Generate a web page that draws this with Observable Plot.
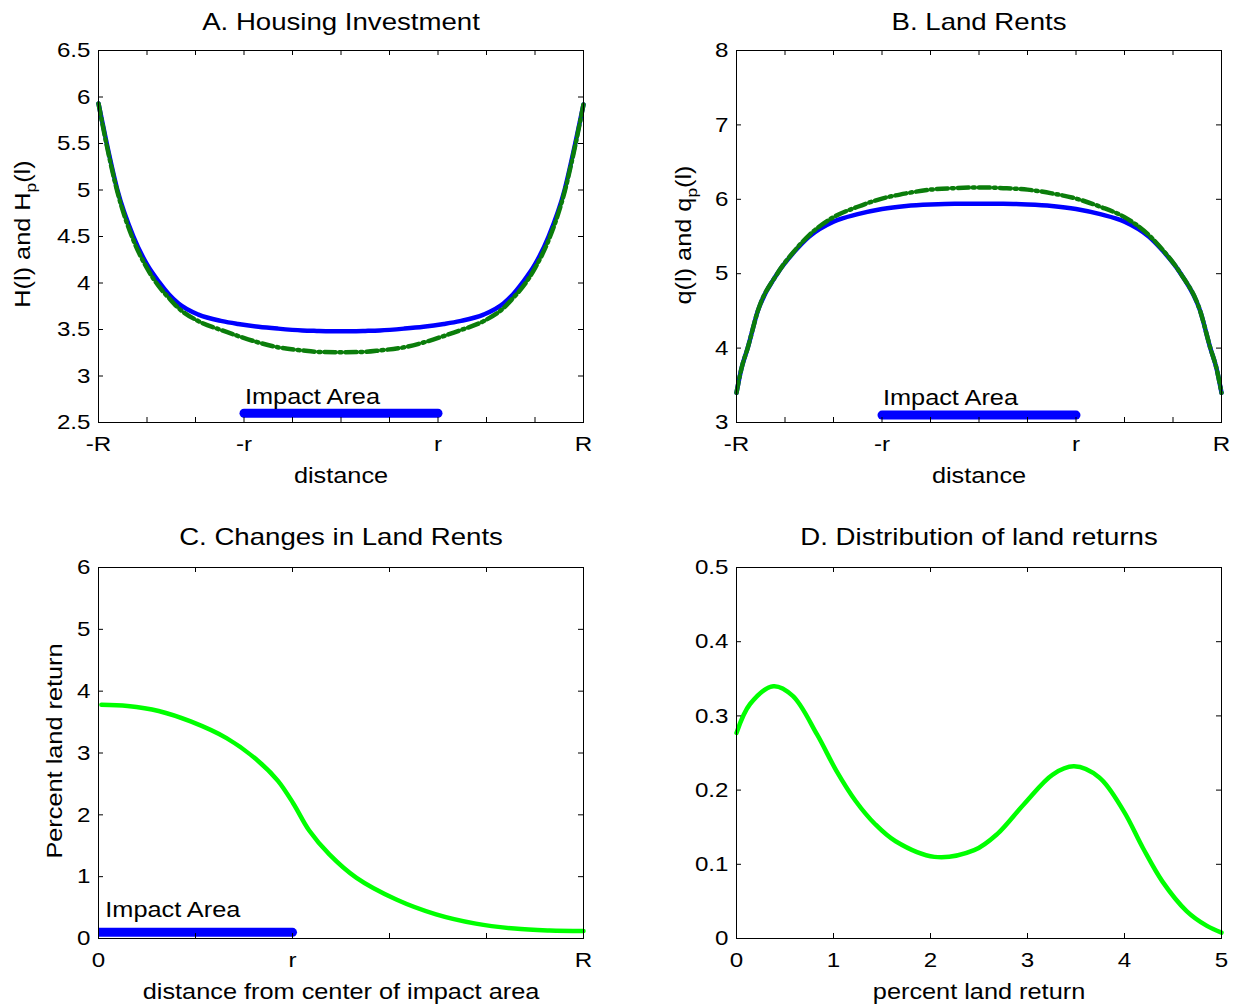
<!DOCTYPE html>
<html><head><meta charset="utf-8">
<script src="https://cdn.jsdelivr.net/npm/d3@7"></script>
<script src="https://cdn.jsdelivr.net/npm/@observablehq/plot@0.6"></script>
<style>
body{margin:0;background:#fff;}
#fig{position:relative;width:1236px;height:1008px;background:#fff;overflow:hidden;}
.panel{position:absolute;}
.panel svg{display:block;max-width:none;}
</style></head><body><div id="fig"></div>
<script>
// ---------- Panel A: Housing Investment ----------
const posA = [0, 0.17, 0.39, 0.72, 1.0, 1.25, 1.45, 1.65, 2.06, 2.55, 2.88, 3.3, 3.69, 4.2, 4.5, 5.0, 5.5, 5.8, 6.31, 6.7, 7.12, 7.45, 7.94, 8.35, 8.55, 8.75, 9.0, 9.28, 9.61, 9.83, 10];
const housingH = [5.93, 5.5, 5.0, 4.5, 4.2, 4.01, 3.88, 3.78, 3.66, 3.59, 3.56, 3.53, 3.51, 3.49, 3.485, 3.48, 3.485, 3.49, 3.51, 3.53, 3.56, 3.59, 3.66, 3.78, 3.88, 4.01, 4.2, 4.5, 5.0, 5.5, 5.92];
const housingHp = [5.93, 5.48, 4.98, 4.46, 4.16, 3.96, 3.84, 3.73, 3.59, 3.49, 3.43, 3.36, 3.31, 3.275, 3.26, 3.255, 3.26, 3.275, 3.31, 3.36, 3.43, 3.49, 3.59, 3.73, 3.84, 3.96, 4.16, 4.46, 4.98, 5.48, 5.92];
const impactA = {x: [3, 7], y: 2.6, textX: 3.02, textY: 2.70};

// ---------- Panel B: Land Rents ----------
const posB = [0, 0.1, 0.23, 0.44, 0.84, 1.2, 1.5, 2.0, 2.5, 3.0, 3.5, 4.0, 4.5, 5.0, 5.5, 6.0, 6.5, 7.0, 7.5, 8.0, 8.5, 8.8, 9.16, 9.56, 9.77, 9.9, 10];
const rentQ = [3.40, 3.72, 4.0, 4.5, 5.0, 5.3, 5.5, 5.7, 5.8, 5.87, 5.91, 5.93, 5.94, 5.94, 5.94, 5.93, 5.91, 5.87, 5.8, 5.7, 5.5, 5.3, 5.0, 4.5, 4.0, 3.72, 3.40];
const rentQp = [3.40, 3.72, 4.0, 4.5, 5.0, 5.31, 5.52, 5.76, 5.90, 6.01, 6.08, 6.13, 6.15, 6.16, 6.15, 6.13, 6.08, 6.01, 5.90, 5.76, 5.52, 5.31, 5.0, 4.5, 4.0, 3.72, 3.40];
const impactB = {x: [3, 7], y: 3.1, textX: 3.02, textY: 3.23};

// ---------- Panel C: Changes in Land Rents ----------
const distC = [0.03, 0.3, 0.62, 0.95, 1.32, 1.64, 1.85, 2.01, 2.17, 2.38, 2.66, 3.07, 3.48, 3.89, 4.29, 4.65, 5.0];
const returnC = [3.78, 3.76, 3.68, 3.51, 3.24, 2.88, 2.55, 2.18, 1.75, 1.36, 0.98, 0.63, 0.39, 0.24, 0.16, 0.13, 0.12];
const impactC = {x: [0, 2], y: 0.1, textX: 0.07, textY: 0.355};

// ---------- Panel D: Distribution of land returns ----------
const returnD = [0, 0.14, 0.38, 0.58, 0.83, 1.03, 1.23, 1.43, 1.64, 2.04, 2.45, 2.69, 2.97, 3.26, 3.48, 3.74, 3.99, 4.19, 4.39, 4.64, 4.85, 5.0];
const densityD = [0.277, 0.316, 0.340, 0.327, 0.275, 0.226, 0.185, 0.154, 0.131, 0.110, 0.119, 0.141, 0.182, 0.221, 0.232, 0.217, 0.172, 0.122, 0.077, 0.037, 0.017, 0.008];

// ---------- Ticks & labels ----------
const ticksDistX = [0, 1, 2, 3, 4, 5, 6, 7, 8, 9, 10];
const labeledDistX = [0, 3, 7, 10];
const labelsDistX = ["-R", "-r", "r", "R"];
const ticksAY = [2.5, 3, 3.5, 4, 4.5, 5, 5.5, 6, 6.5];
const ticksBY = [3, 4, 5, 6, 7, 8];
const ticksCX = [0, 1, 2, 3, 4, 5];
const labeledCX = [0, 2, 5];
const labelsCX = ["0", "r", "R"];
const ticksCY = [0, 1, 2, 3, 4, 5, 6];
const ticksDX = [0, 1, 2, 3, 4, 5];
const labelsDX = ["0", "1", "2", "3", "4", "5"];
const ticksDY = [0, 0.1, 0.2, 0.3, 0.4, 0.5];

const titles = ["A. Housing Investment", "B. Land Rents", "C. Changes in Land Rents", "D. Distribution of land returns"];
const xLabels = ["distance", "distance", "distance from center of impact area", "percent land return"];
const impactText = "Impact Area";

const FONT = '"Liberation Sans", Arial, Helvetica, sans-serif';
const BLUE = "#0000ff", DKGREEN = "#0b7d0b", GREEN = "#00ff00";
const DASH = "11,4,2,4";
const W = 618, H = 504;
const STRETCH = 1.15;

function rows(xs, ...series) {
  return xs.map((x, i) => { const r = {x}; series.forEach((s, k) => r["s" + k] = s[i]); return r; });
}

function makePanel(cfg) {
  const fw = W - cfg.ml - cfg.mr, fh = H - cfg.mt - cfg.mb;
  const fmtMap = new Map(cfg.xMajor.map((d, i) => [d, cfg.xMajorLabels[i]]));
  const svg = Plot.plot({
    width: W, height: H,
    marginLeft: cfg.ml, marginRight: cfg.mr, marginTop: cfg.mt, marginBottom: cfg.mb,
    style: {fontFamily: FONT, color: "black", background: "white", overflow: "visible"},
    x: {type: "linear", domain: cfg.xDomain},
    y: {type: "linear", domain: cfg.yDomain},
    marks: [
      ...cfg.marks,
      Plot.frame({stroke: "black", strokeWidth: 1}),
      Plot.tickX(cfg.xMinor, {x: d => d, insetTop: fh - 5, stroke: "black", strokeWidth: 1}),
      Plot.tickX(cfg.xMinor, {x: d => d, insetBottom: fh - 5, stroke: "black", strokeWidth: 1}),
      Plot.tickY(cfg.yTicks, {y: d => d, insetRight: fw - 5, stroke: "black", strokeWidth: 1}),
      Plot.tickY(cfg.yTicks, {y: d => d, insetLeft: fw - 5, stroke: "black", strokeWidth: 1}),
      Plot.axisX(cfg.xMajor, {tickSize: 0, tickPadding: 14, tickFormat: d => fmtMap.get(d), fontSize: 21, label: null, fill: "black"}),
      Plot.axisY(cfg.yTicks, {tickSize: 0, tickPadding: 8, tickFormat: d => String(d), fontSize: 21, label: null, fill: "black"}),
      Plot.text([cfg.title], {frameAnchor: "top", lineAnchor: "middle", dy: cfg.titleDy, fontSize: 24, fill: "black"}),
      Plot.text([cfg.xLabel], {frameAnchor: "bottom", lineAnchor: "middle", dy: 53, fontSize: 22, fill: "black"})
    ]
  });
  if (cfg.yLabel) {
    const t = d3.select(svg).append("text")
      .attr("transform", `translate(${cfg.yLabel.x},${cfg.yLabel.y}) rotate(-90)`)
      .attr("text-anchor", "middle")
      .attr("dy", "0.35em")
      .attr("font-size", 22)
      .attr("font-family", FONT)
      .attr("fill", "black");
    cfg.yLabel.parts.forEach(p => {
      const ts = t.append("tspan").text(p.t);
      if (p.sub) ts.attr("font-size", 15).attr("dy", 6);
      if (p.after) ts.attr("dy", -6);
    });
  }
  const div = document.createElement("div");
  div.className = "panel";
  div.style.left = cfg.left + "px";
  div.style.top = cfg.top + "px";
  div.appendChild(svg);
  document.getElementById("fig").appendChild(div);
}

function impactMarks(imp) {
  const bar = imp.x.map(x => ({x, y: imp.y}));
  return [
    Plot.line(bar, {x: "x", y: "y", stroke: BLUE, strokeWidth: 9, strokeLinecap: "round", clip: imp.x[0] === 0}),
    Plot.text([{x: imp.textX, y: imp.textY, t: impactText}], {x: "x", y: "y", text: "t", textAnchor: "start", lineAnchor: "bottom", fontSize: 22, fill: "black"})
  ];
}

const dataA = rows(posA, housingH, housingHp);
const dataB = rows(posB, rentQ, rentQp);
const dataC = rows(distC, returnC);
const dataD = rows(returnD, densityD);

makePanel({
  left: 0, top: 0, ml: 98, mr: 35, mt: 50, mb: 82,
  xDomain: [0, 10], yDomain: [2.5, 6.5],
  xMinor: ticksDistX, xMajor: labeledDistX, xMajorLabels: labelsDistX, yTicks: ticksAY,
  title: titles[0], titleDy: -28, xLabel: xLabels[0],
  yLabel: {x: 22, y: 234, parts: [{t: "H(l) and H"}, {t: "p", sub: true}, {t: "(l)", after: true}]},
  marks: [
    Plot.line(dataA, {x: "x", y: "s0", stroke: BLUE, strokeWidth: 4.5, curve: "monotone-x"}),
    Plot.line(dataA, {x: "x", y: "s1", stroke: DKGREEN, strokeWidth: 4.5, strokeDasharray: DASH, curve: "monotone-x"}),
    ...impactMarks(impactA)
  ]
});

makePanel({
  left: 618, top: 0, ml: 118, mr: 15, mt: 50, mb: 82,
  xDomain: [0, 10], yDomain: [3, 8],
  xMinor: ticksDistX, xMajor: labeledDistX, xMajorLabels: labelsDistX, yTicks: ticksBY,
  title: titles[1], titleDy: -28, xLabel: xLabels[1],
  yLabel: {x: 65, y: 235, parts: [{t: "q(l) and q"}, {t: "p", sub: true}, {t: "(l)", after: true}]},
  marks: [
    Plot.line(dataB, {x: "x", y: "s0", stroke: BLUE, strokeWidth: 4.5, curve: "monotone-x"}),
    Plot.line(dataB, {x: "x", y: "s1", stroke: DKGREEN, strokeWidth: 4.5, strokeDasharray: DASH, curve: "monotone-x"}),
    ...impactMarks(impactB)
  ]
});

makePanel({
  left: 0, top: 504, ml: 98, mr: 35, mt: 63, mb: 70,
  xDomain: [0, 5], yDomain: [0, 6],
  xMinor: ticksCX, xMajor: labeledCX, xMajorLabels: labelsCX, yTicks: ticksCY,
  title: titles[2], titleDy: -30, xLabel: xLabels[2],
  yLabel: {x: 54, y: 247, parts: [{t: "Percent land return"}]},
  marks: [
    Plot.line(dataC, {x: "x", y: "s0", stroke: GREEN, strokeWidth: 4.5, curve: "catmull-rom"}),
    ...impactMarks(impactC)
  ]
});

makePanel({
  left: 618, top: 504, ml: 118, mr: 15, mt: 63, mb: 70,
  xDomain: [0, 5], yDomain: [0, 0.5],
  xMinor: ticksDX, xMajor: ticksDX, xMajorLabels: labelsDX, yTicks: ticksDY,
  title: titles[3], titleDy: -30, xLabel: xLabels[3],
  yLabel: null,
  marks: [
    Plot.line(dataD, {x: "x", y: "s0", stroke: GREEN, strokeWidth: 4.5, curve: "catmull-rom"})
  ]
});

// widen glyphs horizontally to match the reference's stretched lettering
document.querySelectorAll("#fig svg text").forEach(el => {
  const L = el.getComputedTextLength();
  if (L > 0) {
    el.setAttribute("textLength", (L * STRETCH).toFixed(2));
    el.setAttribute("lengthAdjust", "spacingAndGlyphs");
  }
});
</script>
</body></html>
